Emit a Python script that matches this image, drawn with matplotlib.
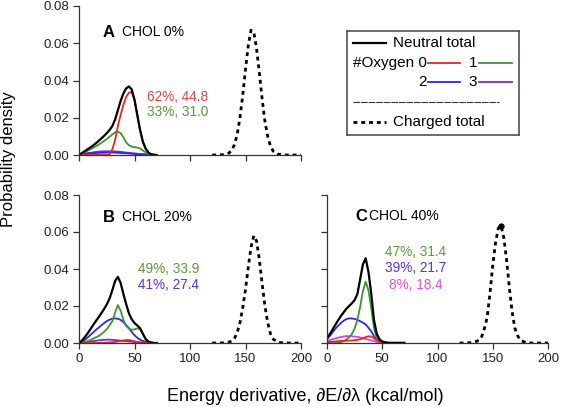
import matplotlib
matplotlib.use("Agg")
import matplotlib.pyplot as plt

plt.rcParams['font.family'] = ['Liberation Sans', 'DejaVu Sans']

# energy derivative grid for the neutral curves (kcal/mol)
x_neutral = [0, 2.5, 5, 7.5, 10, 12.5, 15, 17.5, 20, 22.5, 25, 27.5, 30, 32.5, 35,
             37.5, 40, 42.5, 45, 47.5, 50, 52.5, 55, 57.5, 60, 62.5, 65, 67.5, 70]
# grid for the charged curves
x_charged = [120, 125, 130, 135, 137.5, 140, 142.5, 145, 147.5, 150, 152.5, 155,
             157.5, 160, 162.5, 165, 167.5, 170, 172.5, 175, 180, 185, 190, 195, 200]

# A: CHOL 0%
a_total = [0, 0.001, 0.002, 0.003, 0.004, 0.005, 0.0062, 0.0075, 0.0088, 0.0102,
           0.0117, 0.0134, 0.0155, 0.019, 0.024, 0.029, 0.033, 0.0358, 0.0368,
           0.0352, 0.0295, 0.0215, 0.0135, 0.0072, 0.0035, 0.0013, 0.0004, 0.0001, 0]
a_o0 = [0, 0, 0, 0, 0, 0, 0, 0, 0, 0, 0, 0.0003, 0.003, 0.008, 0.0155, 0.0215, 0.027,
        0.0312, 0.0335, 0.0338, 0.030, 0.0215, 0.0135, 0.0072, 0.0035, 0.0013, 0.0004,
        0.0001, 0]
a_o1 = [0, 0.0008, 0.0015, 0.0022, 0.003, 0.0038, 0.0046, 0.0055, 0.0065, 0.0075,
        0.0086, 0.0098, 0.011, 0.0121, 0.0125, 0.0118, 0.0095, 0.0068, 0.0052, 0.0045,
        0.0042, 0.004, 0.0035, 0.0025, 0.0014, 0.0006, 0.0002, 0, 0]
a_o2 = [0, 0.0003, 0.0005, 0.0007, 0.0008, 0.0009, 0.001, 0.0011, 0.0012, 0.0012,
        0.0013, 0.0013, 0.0013, 0.0013, 0.0012, 0.0011, 0.001, 0.0009, 0.0008, 0.0007,
        0.0005, 0.0004, 0.0003, 0.0002, 0.0002, 0.0001, 0.0001, 0, 0]
a_o3 = [0.0003, 0.0005, 0.0008, 0.001, 0.0012, 0.0014, 0.0016, 0.0018, 0.0019, 0.002,
        0.002, 0.002, 0.002, 0.0019, 0.0018, 0.0017, 0.0015, 0.0013, 0.0012, 0.001,
        0.0009, 0.0007, 0.0006, 0.0005, 0.0004, 0.0003, 0.0002, 0.0002, 0.0001]
a_charged = [0, 0, 0.0002, 0.001, 0.0025, 0.0055, 0.011, 0.020, 0.032, 0.046, 0.059,
             0.067, 0.066, 0.057, 0.044, 0.030, 0.018, 0.010, 0.0048, 0.002, 0.0003,
             0, 0, 0, 0]

# B: CHOL 20%
b_total = [0, 0.0012, 0.003, 0.005, 0.0072, 0.0095, 0.0117, 0.0138, 0.016, 0.0183,
           0.0208, 0.024, 0.0285, 0.0335, 0.0358, 0.0325, 0.0265, 0.021, 0.016, 0.0128,
           0.0108, 0.0095, 0.008, 0.005, 0.0022, 0.0008, 0.0002, 0, 0]
b_o0 = [0, 0, 0, 0, 0, 0, 0, 0, 0, 0, 0.0002, 0.0003, 0.0004, 0.0006, 0.0008, 0.0011,
        0.0014, 0.0016, 0.0016, 0.0013, 0.0009, 0.0005, 0.0003, 0.0001, 0, 0, 0, 0, 0]
b_o1 = [0, 0.0002, 0.0005, 0.001, 0.0015, 0.0022, 0.003, 0.0037, 0.0048, 0.006, 0.0075,
        0.0095, 0.0118, 0.0165, 0.0205, 0.0175, 0.0125, 0.0092, 0.0078, 0.0072, 0.0074,
        0.0079, 0.0075, 0.0048, 0.0022, 0.0008, 0.0002, 0, 0]
b_o2 = [0, 0.0007, 0.0016, 0.0028, 0.0042, 0.0056, 0.007, 0.0082, 0.0095, 0.0107,
        0.0118, 0.0126, 0.0131, 0.0133, 0.0131, 0.0125, 0.0113, 0.0097, 0.008, 0.006,
        0.0042, 0.0028, 0.0018, 0.0011, 0.0007, 0.0004, 0.0002, 0.0001, 0]
b_o3 = [0, 0.0002, 0.0004, 0.0006, 0.0008, 0.001, 0.0012, 0.0014, 0.0016, 0.0017,
        0.0018, 0.0018, 0.0017, 0.0016, 0.0014, 0.0013, 0.0011, 0.001, 0.0008, 0.0007,
        0.0005, 0.0004, 0.0003, 0.0003, 0.0002, 0.0002, 0.0001, 0.0001, 0]
b_charged = [0, 0, 0.0001, 0.0005, 0.001, 0.0025, 0.0055, 0.011, 0.019, 0.029, 0.041,
             0.052, 0.058, 0.055, 0.045, 0.032, 0.020, 0.011, 0.005, 0.002, 0.0003,
             0, 0, 0, 0]

# C: CHOL 40%
c_total = [0.0025, 0.0048, 0.0072, 0.0098, 0.0122, 0.0145, 0.0165, 0.0185, 0.02,
           0.0215, 0.0232, 0.0265, 0.0345, 0.0425, 0.0458, 0.0385, 0.027, 0.0125,
           0.005, 0.002, 0.0008, 0.0004, 0.0002, 0.0001, 0.0001, 0.0001, 0.0001,
           0.0001, 0.0001]
c_o0 = [0.0005, 0.0006, 0.0007, 0.0008, 0.001, 0.0011, 0.0012, 0.0012, 0.0013, 0.0014,
        0.0015, 0.0017, 0.002, 0.0026, 0.0032, 0.0036, 0.0035, 0.0026, 0.0015, 0.0007,
        0.0003, 0.0001, 0, 0, 0, 0, 0, 0, 0]
c_o1 = [0, 0, 0, 0.0001, 0.0002, 0.0005, 0.001, 0.0019, 0.0031, 0.0048, 0.0078, 0.0125,
        0.0195, 0.028, 0.0331, 0.0285, 0.019, 0.008, 0.003, 0.001, 0.0003, 0.0001,
        0, 0, 0, 0, 0, 0, 0]
c_o2 = [0.002, 0.0038, 0.0057, 0.0077, 0.0093, 0.0108, 0.012, 0.0129, 0.0133, 0.0133,
        0.013, 0.0125, 0.0118, 0.011, 0.01, 0.0083, 0.0063, 0.0038, 0.0018, 0.0007,
        0.0002, 0.0001, 0, 0, 0, 0, 0, 0, 0]
c_o3 = [0.001, 0.0015, 0.002, 0.0025, 0.0029, 0.0032, 0.0035, 0.0037, 0.0037, 0.0036,
        0.0035, 0.0033, 0.003, 0.0026, 0.0022, 0.0018, 0.0014, 0.001, 0.0006, 0.0003,
        0.0001, 0, 0, 0, 0, 0, 0, 0, 0]
c_charged = [0, 0, 0.0002, 0.0008, 0.0015, 0.0035, 0.008, 0.014, 0.027, 0.042, 0.054,
             0.062, 0.0635, 0.057, 0.045, 0.030, 0.017, 0.008, 0.004, 0.0015, 0.0002,
             0, 0, 0, 0]

# annotations: (text, x, y, colour key)
a_notes = [("62%, 44.8", 61, 0.0311, 'red_t'), ("33%, 31.0", 61, 0.0231, 'green_t')]
b_notes = [("49%, 33.9", 53, 0.0400, 'green_t'), ("41%, 27.4", 53, 0.0313, 'blue_t')]
c_notes = [("47%, 31.4", 80, 0.0492, 'green_t'), ("39%, 21.7", 80, 0.0405, 'blue_t'),
           ("8%, 18.4", 80, 0.0313, 'mag_t')]

COL = {
    'red': '#e8281e', 'green': '#3c9630', 'blue': '#2a2ae6', 'purple': '#7a2ad0',
    'mag': '#e040e0',
    'red_t': '#d84a4a', 'green_t': '#5a9a40', 'blue_t': '#5a35d8', 'mag_t': '#d855d8',
}

W, H = 561, 407
fig = plt.figure(figsize=(W / 100, H / 100), dpi=100)


def px_axes(l, t, r, b):
    return fig.add_axes([l / W, 1 - b / H, (r - l) / W, (b - t) / H])


def draw_panel(ax, total, o0, o1, o2, o3, charged, notes, o3_col, note_ha, letter,
               chol, xlab=True, ylab=True, peak_dot=False):
    ax.plot(x_neutral, o3, color=COL[o3_col], lw=1.3)
    ax.plot(x_neutral, o2, color=COL['blue'], lw=1.3)
    ax.plot(x_neutral, o1, color=COL['green'], lw=1.3)
    ax.plot(x_neutral, o0, color=COL['red'], lw=1.3)
    ax.plot(x_neutral, total, color='black', lw=1.6)
    ax.plot(x_charged, charged, color='black', lw=2, dashes=(1.4, 1.4))
    if peak_dot:
        i = charged.index(max(charged))
        ax.plot(x_charged[i], charged[i], 'o', color='black', ms=3.5)
    for txt, x, y, c in notes:
        ax.text(x, y, txt, color=COL[c], fontsize=9.8, ha=note_ha, va='center')
    ax.set_xlim(0, 200)
    ax.set_ylim(0, 0.08)
    ax.set_xticks([0, 50, 100, 150, 200])
    ax.set_yticks([0, 0.02, 0.04, 0.06, 0.08])
    ax.spines['top'].set_visible(False)
    ax.spines['right'].set_visible(False)
    for s in ('left', 'bottom'):
        ax.spines[s].set_linewidth(0.9)
        ax.spines[s].set_color('#333333')
    ax.tick_params(direction='out', length=4, width=0.9, color='#333333',
                   labelsize=9.5, labelcolor='#222222', pad=3)
    ax.yaxis.set_major_formatter(plt.FormatStrFormatter('%.2f'))
    if not xlab:
        ax.set_xticklabels([])
    if not ylab:
        ax.set_yticklabels([])
    lx, cx, ly = letter
    ax.text(lx, ly, chol[0], transform=ax.transAxes, fontsize=12,
            fontweight='bold', va='center', ha='left')
    ax.text(cx, ly, chol[1], transform=ax.transAxes, fontsize=10, va='center',
            ha='left')


ax_a = px_axes(79, 6, 301, 155)
ax_b = px_axes(79, 195, 301, 343)
ax_c = px_axes(327, 195, 548, 343)

draw_panel(ax_a, a_total, a_o0, a_o1, a_o2, a_o3, a_charged, a_notes, 'purple', 'left',
           (0.108, 0.192, 0.825), ('A', 'CHOL 0%'), xlab=False)
draw_panel(ax_b, b_total, b_o0, b_o1, b_o2, b_o3, b_charged, b_notes, 'purple', 'left',
           (0.108, 0.192, 0.851), ('B', 'CHOL 20%'))
draw_panel(ax_c, c_total, c_o0, c_o1, c_o2, c_o3, c_charged, c_notes, 'mag', 'center',
           (0.127, 0.19, 0.858), ('C', 'CHOL 40%'), ylab=False, peak_dot=True)

fig.text(0.016, 0.609, 'Probability density', rotation=90, ha='center',
         va='center', fontsize=12)
fig.text(0.5437, 0.0253, 'Energy derivative, \u2202E/\u2202\u03bb (kcal/mol)',
         ha='center', va='center', fontsize=13)

# legend box, drawn in pixel units relative to its own frame
lg = px_axes(347, 31, 519, 135)
lg.set_xlim(0, 172)
lg.set_ylim(104, 0)
lg.set_xticks([])
lg.set_yticks([])
for s in lg.spines.values():
    s.set_linewidth(1.1)
    s.set_color('#444444')
fs = 11
lg.plot([6, 39], [12, 12], color='black', lw=1.6)
lg.text(46, 12, 'Neutral total', fontsize=fs, va='center')
lg.text(80, 32, '#Oxygen 0', fontsize=fs, va='center', ha='right')
lg.plot([81, 113], [32, 32], color=COL['red'], lw=1.3)
lg.text(126, 32, '1', fontsize=fs, va='center', ha='center')
lg.plot([132, 165], [32, 32], color=COL['green'], lw=1.3)
lg.text(80, 51, '2', fontsize=fs, va='center', ha='right')
lg.plot([81, 113], [51, 51], color=COL['blue'], lw=1.3)
lg.text(126, 51, '3', fontsize=fs, va='center', ha='center')
lg.plot([132, 165], [51, 51], color=COL['purple'], lw=1.3)
lg.plot([6, 152], [71, 71], color='#333333', lw=0.8, dashes=(6, 0.8))
lg.plot([6, 39], [91, 91], color='black', lw=2, dashes=(1.4, 1.4))
lg.text(46, 91, 'Charged total', fontsize=fs, va='center')

fig.savefig('out.png', dpi=100)
